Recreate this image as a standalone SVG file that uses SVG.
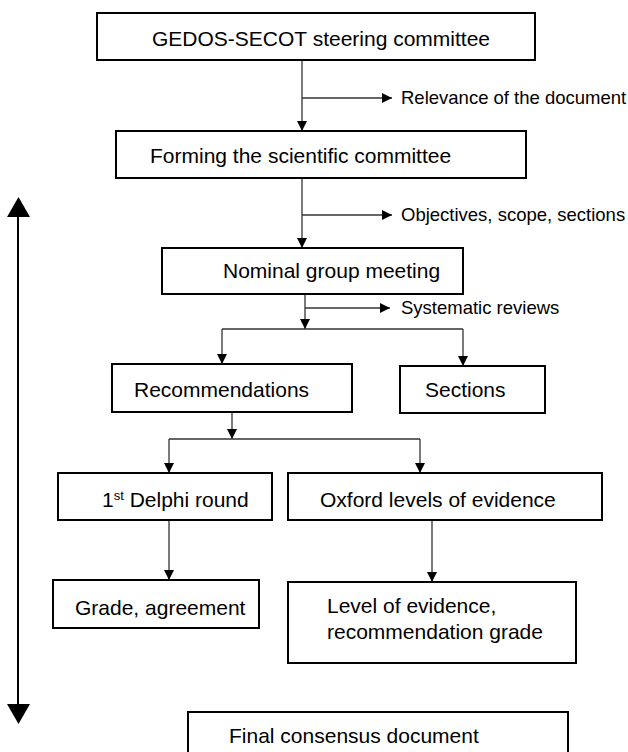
<svg xmlns="http://www.w3.org/2000/svg" width="628" height="752" viewBox="0 0 628 752">
<style>
.box{fill:#fff;stroke:#000;stroke-width:2}
.t{font-family:"Liberation Sans",Arial,sans-serif;font-size:21px;fill:#000}
.lbl{font-family:"Liberation Sans",Arial,sans-serif;font-size:18.5px;fill:#000}
.c{fill:none;stroke:#333;stroke-width:1.3}
.ca{fill:none;stroke:#333;stroke-width:1.3;marker-end:url(#ah)}
</style>
<defs>
<marker id="ah" markerUnits="userSpaceOnUse" markerWidth="10" markerHeight="10" refX="10" refY="5" orient="auto" viewBox="0 0 10 10">
<path d="M0,0 L10,5 L0,10 z" fill="#000"/>
</marker>
</defs>
<rect width="628" height="752" fill="#fff"/>

<g id="connectors">
<path class="ca" d="M302,60 V131"/>
<path class="ca" d="M302,98 H392"/>
<path class="ca" d="M302,178 V248"/>
<path class="ca" d="M302,215 H392"/>
<path class="ca" d="M305,294 V329"/>
<path class="ca" d="M305,308 H390"/>
<path class="c" d="M222,329 H463"/>
<path class="ca" d="M222,329 V364"/>
<path class="ca" d="M463,329 V366"/>
<path class="ca" d="M232,412 V439"/>
<path class="c" d="M169,439 H420"/>
<path class="ca" d="M169,439 V473"/>
<path class="ca" d="M420,439 V473"/>
<path class="ca" d="M169,520 V580"/>
<path class="ca" d="M432,520 V582"/>
</g>

<g id="labels">
<text class="lbl" x="401" y="104">Relevance of the document</text>
<text class="lbl" x="401" y="221">Objectives, scope, sections</text>
<text class="lbl" x="401" y="314">Systematic reviews</text>
</g>

<g id="timeline">
<path d="M18,215 V706" stroke="#000" stroke-width="2" fill="none"/>
<polygon points="18.5,197 7,217 30,217" fill="#000"/>
<polygon points="18.5,724 7,704 30,704" fill="#000"/>
</g>

<g id="n1">
<rect class="box" x="97" y="13" width="438" height="47"/>
<text class="t" x="152" y="46">GEDOS-SECOT steering committee</text>
</g>
<g id="n2">
<rect class="box" x="116" y="131" width="410" height="47"/>
<text class="t" x="150" y="163">Forming the scientific committee</text>
</g>
<g id="n3">
<rect class="box" x="162" y="248" width="301" height="46"/>
<text class="t" x="223" y="278">Nominal group meeting</text>
</g>
<g id="n4">
<rect class="box" x="112" y="364" width="240" height="48"/>
<text class="t" x="134" y="397">Recommendations</text>
</g>
<g id="n5">
<rect class="box" x="400" y="366" width="145" height="47"/>
<text class="t" x="425" y="397">Sections</text>
</g>
<g id="n6">
<rect class="box" x="58" y="473" width="214" height="47"/>
<text class="t" x="102" y="507">1<tspan font-size="13" dy="-7">st</tspan><tspan dy="7"> Delphi round</tspan></text>
</g>
<g id="n7">
<rect class="box" x="288" y="473" width="314" height="47"/>
<text class="t" x="320" y="507">Oxford levels of evidence</text>
</g>
<g id="n8">
<rect class="box" x="53" y="580" width="206" height="48"/>
<text class="t" x="75" y="615">Grade, agreement</text>
</g>
<g id="n9">
<rect class="box" x="288" y="582" width="288" height="81"/>
<text class="t" x="327" y="613">Level of evidence,</text>
<text class="t" x="327" y="639">recommendation grade</text>
</g>
<g id="n10">
<rect class="box" x="188" y="712" width="380" height="60"/>
<text class="t" x="229" y="743">Final consensus document</text>
</g>
</svg>
